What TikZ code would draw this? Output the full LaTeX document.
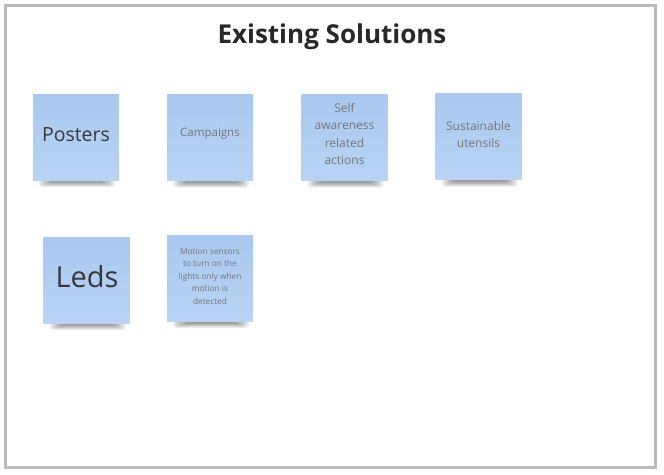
\documentclass[tikz,border=0pt]{standalone}
\usepackage{fontspec}
\setmainfont{Open Sans}
\definecolor{framegray}{RGB}{186,186,186}
\definecolor{notetop}{RGB}{170,200,239}
\definecolor{notebot}{RGB}{184,211,244}
\definecolor{titletext}{RGB}{40,40,40}
\definecolor{bigtext}{RGB}{55,55,60}
\definecolor{smalltext}{RGB}{115,117,123}
\tikzset{
  sticky/.style={minimum width=86pt, minimum height=86pt, inner sep=0pt,
    top color=notetop, bottom color=notebot, draw=none},
  titlelabel/.style={font=\fontsize{26}{30}\selectfont\bfseries, text=titletext, inner sep=0pt},
  biglabel/.style={text=bigtext, inner sep=0pt},
  smalllabel/.style={text=smalltext, inner sep=0pt, align=center},
}
\newcommand{\noteshadow}[3]{%
  \foreach \k in {0,...,6}{%
    \fill[black, opacity=0.065, rounded corners=2.5pt] (#1+6+2*\k, #3-4) rectangle (#2-4-2*\k, #3+7-0.8*\k);
  }%
}
\begin{document}
\begin{tikzpicture}[x=1pt,y=-1pt]
\useasboundingbox (0,0) rectangle (664,474);
\fill[white] (0,0) rectangle (664,474);
\draw[framegray, line width=3pt] (5.5,5) rectangle (655,467);

\node[titlelabel, anchor=base] (title) at (332,43) {Existing Solutions};

% shadows
\noteshadow{33}{119}{180}
\noteshadow{167}{253}{180.5}
\noteshadow{301.5}{387.5}{180.5}
\noteshadow{435.5}{521.5}{179.5}
\noteshadow{43.5}{129.5}{323}
\noteshadow{167}{253}{321}

% notes
\node[sticky] (posters) at (76,137) {};
\node[sticky] (campaigns) at (210,137.5) {};
\node[sticky] (selfaware) at (344.5,137.5) {};
\node[sticky] (utensils) at (478.5,136.5) {};
\node[sticky] (leds) at (86.5,280) {};
\node[sticky] (motion) at (210,278) {};

% labels
\node[biglabel, anchor=base, font=\fontsize{19.5}{22}\selectfont] (tposters) at (76,141) {Posters};
\node[smalllabel, font=\fontsize{11.5}{17.5}\selectfont] (tcampaigns) at (210,134) {Campaigns};
\node[smalllabel, font=\fontsize{12}{17.5}\selectfont] (tselfaware) at (344.5,134) {Self\\awareness\\related\\actions};
\node[smalllabel, font=\fontsize{12}{17.5}\selectfont] (tutensils) at (478.5,134.5) {Sustainable\\utensils};
\node[biglabel, anchor=base, font=\fontsize{29}{32}\selectfont] (tleds) at (87,287) {Leds};
\node[smalllabel, font=\fontsize{8.3}{12.5}\selectfont] (tmotion) at (210,276) {Motion sensors\\to turn on the\\lights only when\\motion is\\detected};
\end{tikzpicture}
\end{document}
